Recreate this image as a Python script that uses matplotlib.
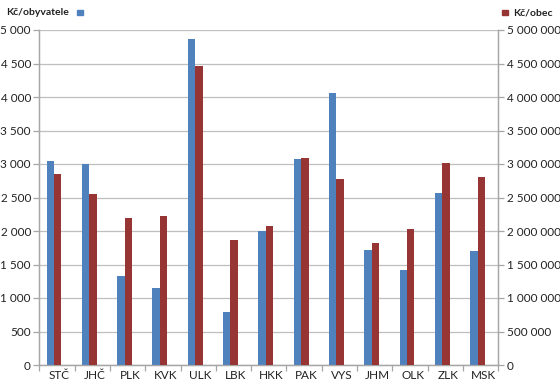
import matplotlib
matplotlib.use("Agg")
import matplotlib.pyplot as plt
from matplotlib.ticker import FuncFormatter, MultipleLocator, FixedLocator
from matplotlib.patches import Rectangle
import matplotlib.transforms as mtransforms
import numpy as np

categories = ["STČ", "JHČ", "PLK", "KVK", "ULK", "LBK", "HKK", "PAK", "VYS", "JHM", "OLK", "ZLK", "MSK"]
kc_obyvatele = [3045, 2995, 1330, 1150, 4860, 790, 1995, 3080, 4065, 1710, 1420, 2570, 1700]
kc_obec = [2845000, 2545000, 2200000, 2220000, 4465000, 1860000, 2070000, 3090000, 2770000, 1815000, 2030000, 3010000, 2800000]

blue = "#4F81BD"
red = "#973434"
grid_c = "#BFBFBF"
axis_c = "#A6A6A6"
txt_c = "#222222"

plt.rcParams['font.family'] = ['Lato', 'DejaVu Sans']

fig = plt.figure(figsize=(5.6, 3.85), dpi=100)
ax = fig.add_axes([39.3/560, 1-365/385, (498.3-39.3)/560, (365-30)/385])
ax2 = ax.twinx()

x = np.arange(len(categories))
w = 0.21
ax.bar(x - 0.19, kc_obyvatele, width=w, color=blue, zorder=3)
ax2.bar(x + 0.02, kc_obec, width=w, color=red, zorder=3)

ax.set_xlim(-0.5, len(categories) - 0.5)
ax.set_ylim(0, 5000)
ax2.set_ylim(0, 5000000)
ax.yaxis.set_major_locator(MultipleLocator(500))
ax2.yaxis.set_major_locator(MultipleLocator(500000))

def fmt(v, pos):
    return f"{int(round(v)):,}".replace(",", " ")

ax.yaxis.set_major_formatter(FuncFormatter(fmt))
ax2.yaxis.set_major_formatter(FuncFormatter(fmt))

ax.grid(axis="y", color=grid_c, linewidth=0.9, zorder=0)
ax.set_axisbelow(True)

ax.set_xticks(x)
ax.set_xticklabels([])
ax.xaxis.set_minor_locator(FixedLocator(np.arange(-0.5, len(categories), 1.0)))
ax.tick_params(axis="x", which="major", length=0)
ax.tick_params(axis="x", which="minor", length=4, color=axis_c, width=0.9)
ax.tick_params(axis="y", length=4, color=axis_c, width=0.9, labelsize=8.5, labelcolor=txt_c, pad=2)
ax2.tick_params(axis="y", length=4, color=axis_c, width=0.9, labelsize=8.5, labelcolor=txt_c, pad=2)

trans = mtransforms.blended_transform_factory(ax.transData, ax.transAxes)
for xi, c in zip(x, categories):
    ax.text(xi + 0.07, (365 - 379) / 335, c, transform=trans, ha="center", va="baseline",
            fontsize=8.5, color=txt_c)

for a in (ax, ax2):
    a.spines["top"].set_visible(False)
    for s in ("left", "right", "bottom"):
        a.spines[s].set_color(axis_c)
        a.spines[s].set_linewidth(0.9)

# legends
fig.text(6/560, 1-12.5/385, "Kč/obyvatele", fontsize=7.5, fontweight="bold", va="center", ha="left", color=txt_c)
fig.patches.append(Rectangle((77/560, 1-15/385), 5.5/560, 5.5/385, transform=fig.transFigure, color=blue, figure=fig))
fig.patches.append(Rectangle((502/560, 1-15/385), 5.5/560, 5.5/385, transform=fig.transFigure, color=red, figure=fig))
fig.text(513.5/560, 1-12.5/385, "Kč/obec", fontsize=7.5, fontweight="bold", va="center", ha="left", color=txt_c)

fig.savefig("out.png", dpi=100)
